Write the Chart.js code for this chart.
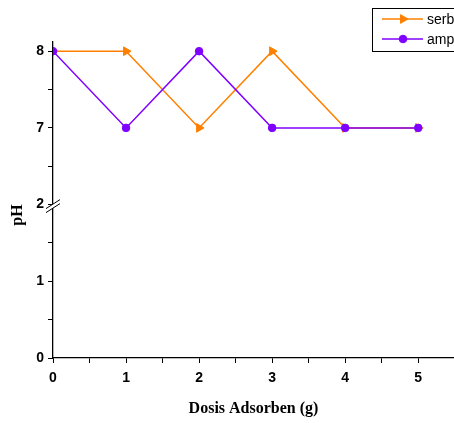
<!DOCTYPE html>
<html>
<head>
<meta charset="utf-8">
<script src="https://cdn.jsdelivr.net/npm/chart.js@4.4.0/dist/chart.umd.min.js"></script>
<style>
  html, body { margin: 0; padding: 0; background: #fff; }
</style>
</head>
<body>
<canvas id="graficaPH" width="454" height="423"></canvas>
<script>
// Datos: pH frente a dosis de adsorben
const dosis = [0, 1, 2, 3, 4, 5];
const phSerbuk = [8, 8, 7, 8, 7, 7];
const phAmpas = [8, 7, 8, 7, 7, 7];
const nombres = ["serbuk", "ampas"];
const colores = ["rgb(255, 128, 0)", "rgb(128, 0, 255)"];
// el eje Y va cortado: tramo bajo 0-2 y tramo alto 6-8
const ticksBajo = [0, 1, 2];
const ticksAlto = [7, 8];

const fuenteTicks = { family: "'Liberation Sans', Arial", size: 14, weight: "bold" };

// ejes en negro, marcas solo hacia fuera
function ejeBase() {
  return {
    border: { color: "#000", width: 1.3 },
    grid: { drawOnChartArea: false, drawTicks: true, tickLength: 5, color: "#000", tickWidth: 1 },
  };
}

// corte del eje, leyenda y titulo "pH"
const extras = {
  id: "extras",
  afterDraw(chart) {
    const ctx = chart.ctx;
    const yLow = chart.scales.yLow;
    const x0 = yLow.right;
    const yb = yLow.top;

    // marcas de corte
    ctx.save();
    ctx.fillStyle = "#fff";
    ctx.beginPath();
    ctx.moveTo(x0 - 4, yb + 2);
    ctx.lineTo(x0 + 4, yb - 3);
    ctx.lineTo(x0 + 4, yb + 1);
    ctx.lineTo(x0 - 4, yb + 6);
    ctx.closePath();
    ctx.fill();
    ctx.strokeStyle = "#000";
    ctx.lineWidth = 1;
    ctx.beginPath();
    ctx.moveTo(x0 - 7, yb + 4);
    ctx.lineTo(x0 + 7, yb - 5);
    ctx.moveTo(x0 - 7, yb + 8);
    ctx.lineTo(x0 + 7, yb - 1);
    ctx.stroke();
    ctx.restore();

    // titulo del eje Y
    ctx.save();
    ctx.translate(18, 215);
    ctx.rotate(-Math.PI / 2);
    ctx.font = "bold 16px 'Liberation Serif', 'Times New Roman'";
    ctx.fillStyle = "#000";
    ctx.textAlign = "center";
    ctx.textBaseline = "middle";
    ctx.fillText("pH", 0, 0);
    ctx.restore();

    // leyenda con recuadro
    ctx.save();
    ctx.fillStyle = "#fff";
    ctx.fillRect(372, 8, 100, 44);
    ctx.strokeStyle = "#000";
    ctx.lineWidth = 1;
    ctx.strokeRect(372.5, 8.5, 100, 43);
    chart.data.datasets.forEach((ds, i) => {
      const y = 19 + i * 20;
      ctx.strokeStyle = ds.borderColor;
      ctx.fillStyle = ds.backgroundColor;
      ctx.lineWidth = 1.5;
      ctx.beginPath();
      ctx.moveTo(382, y);
      ctx.lineTo(423, y);
      ctx.stroke();
      ctx.lineWidth = 1;
      Chart.helpers.drawPoint(ctx, {
        pointStyle: ds.pointStyle,
        rotation: ds.pointRotation || 0,
        radius: ds.pointRadius,
        borderWidth: 1,
      }, 403, y);
      ctx.fillStyle = "#000";
      ctx.font = "14px 'Liberation Sans', Arial";
      ctx.textAlign = "left";
      ctx.textBaseline = "middle";
      ctx.fillText(ds.label, 427, y + 1);
    });
    ctx.restore();
  },
};

const ctx = document.getElementById("graficaPH").getContext("2d");

const serie = (i, datos, estilo, radio, rotacion) => ({
  label: nombres[i],
  data: dosis.map((x, k) => ({ x: x, y: datos[k] })),
  borderColor: colores[i],
  backgroundColor: colores[i],
  borderWidth: 1.5,
  pointStyle: estilo,
  pointRadius: radio,
  pointHoverRadius: radio,
  pointRotation: rotacion,
  pointBorderWidth: 1,
  yAxisID: "yHigh",
  tension: 0,
});

const dsSerbuk = serie(0, phSerbuk, "triangle", 5, 90);
dsSerbuk.order = 1;
const dsAmpas = serie(1, phAmpas, "circle", 3.8, 0);
dsAmpas.order = 0;

function ejeY(min, max, peso, visibles) {
  return Object.assign(ejeBase(), {
    type: "linear",
    position: "left",
    stack: "ph",
    stackWeight: peso,
    min: min,
    max: max,
    ticks: {
      stepSize: 0.5,
      includeBounds: false,
      autoSkip: false,
      color: "#000",
      font: fuenteTicks,
      padding: 4,
      callback: (v) => (visibles.includes(v) ? String(v) : ""),
    },
    afterFit: (s) => { s.width = 53; },
  });
}

window.myChart = new Chart(ctx, {
  type: "line",
  data: { datasets: [dsSerbuk, dsAmpas] },
  options: {
    responsive: false,
    animation: false,
    layout: { autoPadding: false, padding: { top: 42, left: 0, right: 0, bottom: 0 } },
    plugins: { legend: { display: false }, tooltip: { enabled: false } },
    scales: {
      x: Object.assign(ejeBase(), {
        type: "linear",
        min: 0,
        max: 5.49,
        ticks: {
          stepSize: 0.5,
          includeBounds: false,
          autoSkip: false,
          maxRotation: 0,
          color: "#000",
          font: fuenteTicks,
          padding: 7,
          callback: (v) => (dosis.includes(v) ? String(v) : ""),
        },
        title: {
          display: true,
          text: "Dosis Adsorben (g)",
          color: "#000",
          font: { family: "'Liberation Serif', 'Times New Roman'", size: 16, weight: "bold" },
          padding: { top: 4, bottom: 5 },
        },
        afterFit: (s) => { s.height = 65; },
      }),
      // el primer eje apilado queda abajo
      yLow: ejeY(0, 2, 2, ticksBajo),
      yHigh: ejeY(6, 8.12, 2.12, ticksAlto),
    },
  },
  plugins: [extras],
});
</script>
</body>
</html>
